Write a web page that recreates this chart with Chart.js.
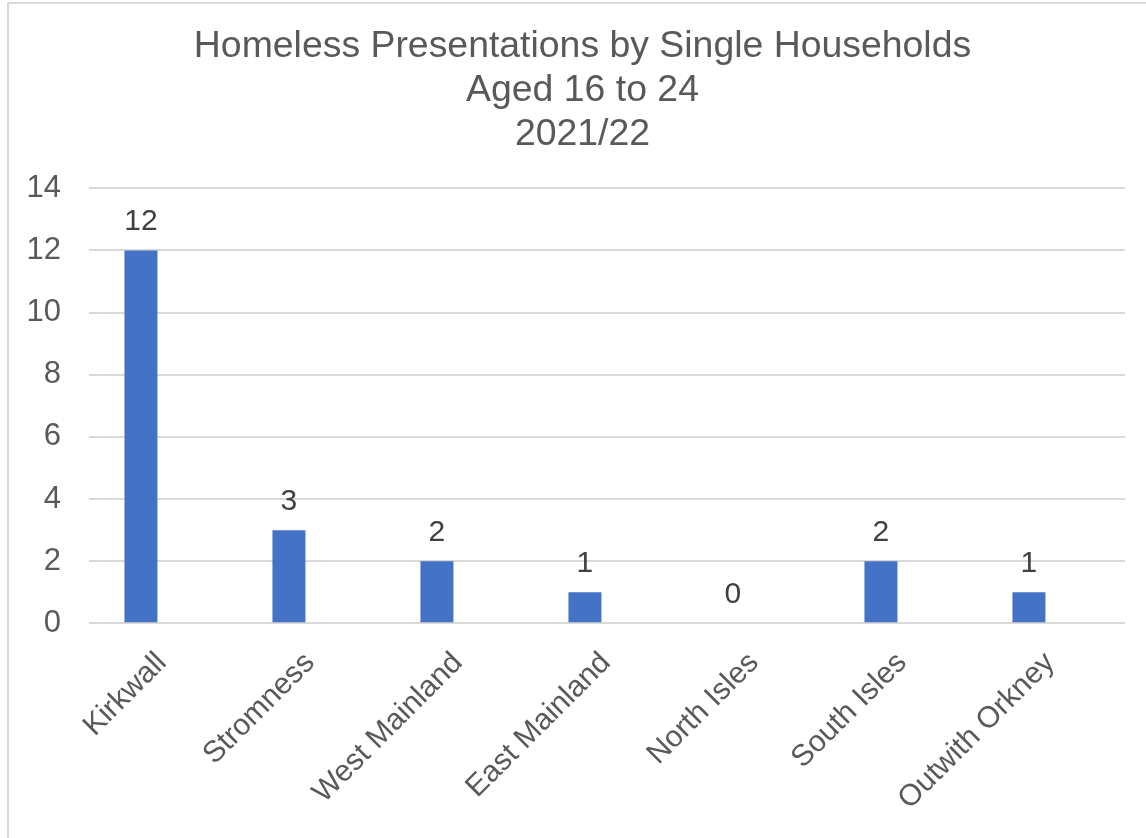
<!DOCTYPE html>
<html>
<head>
<meta charset="utf-8">
<script src="https://cdn.jsdelivr.net/npm/chart.js@4/dist/chart.umd.min.js"></script>
<style>
  html, body { margin: 0; padding: 0; background: #fff; }
  #wrap { position: absolute; left: 0; top: 0; width: 1146px; height: 838px; }
  #frame { position: absolute; left: 7px; top: 2px; width: 1139px; height: 836px;
           border-left: 2px solid #d9d9d9; border-top: 2px solid #d9d9d9; box-sizing: border-box; }
  canvas { position: absolute; left: 0; top: 0; }
</style>
</head>
<body>
<div id="wrap">
  <div id="frame"></div>
  <canvas id="c" width="1146" height="838"></canvas>
</div>
<script>
const titleLines = ["Homeless Presentations by Single Households", "Aged 16 to 24", "2021/22"];
const categories = ["Kirkwall", "Stromness", "West Mainland", "East Mainland", "North Isles", "South Isles", "Outwith Orkney"];
const values = [12, 3, 2, 1, 0, 2, 1];
const yTicks = [0, 2, 4, 6, 8, 10, 12, 14];

const FONT = "'Liberation Sans', Arial, sans-serif";
const TEXT = "#595959";

const valueLabels = {
  id: 'valueLabels',
  afterLayout(chart) {
    // let the y tick labels extend into the left padding without being clipped
    chart.scales.y.left = 0;
  },
  afterDatasetsDraw(chart) {
    const ctx = chart.ctx;
    const meta = chart.getDatasetMeta(0);
    ctx.save();
    ctx.font = "30px " + FONT;
    ctx.fillStyle = "#404040";
    ctx.textAlign = "center";
    ctx.textBaseline = "alphabetic";
    meta.data.forEach((bar, i) => {
      ctx.fillText(String(values[i]), bar.x, bar.y - 20);
    });
    ctx.restore();
  }
};

new Chart(document.getElementById('c'), {
  type: 'bar',
  data: {
    datasets: [{
      data: values.map((v, i) => ({ x: i, y: v })),
      backgroundColor: '#4472C4',
      borderWidth: 0,
      barPercentage: 0.223,
      categoryPercentage: 1.0
    }]
  },
  options: {
    responsive: false,
    animation: false,
    layout: { padding: { left: 40, right: 21, top: 25, bottom: -1 } },
    plugins: {
      legend: { display: false },
      tooltip: { enabled: false },
      title: {
        display: true,
        text: titleLines,
        color: TEXT,
        font: { family: FONT, size: 37.4, weight: 'normal', lineHeight: 1.17 },
        padding: { top: 0, bottom: 32 }
      }
    },
    scales: {
      x: {
        type: 'linear',
        min: -0.351,
        max: 6.649,
        offset: false,
        afterBuildTicks(scale) { scale.ticks = categories.map((c, i) => ({ value: i })); },
        grid: { display: false, drawTicks: false },
        border: { display: false },
        ticks: {
          color: TEXT,
          font: { family: FONT, size: 30 },
          maxRotation: 45,
          minRotation: 45,
          autoSkip: false,
          padding: 22,
          labelOffset: 21,
          callback: (v) => categories[v]
        }
      },
      y: {
        min: 0,
        max: 14,
        afterBuildTicks(scale) { scale.ticks = yTicks.map(v => ({ value: v })); },
        afterFit(scale) { scale.width = 49; },
        grid: { color: '#d9d9d9', lineWidth: 2, drawTicks: false },
        border: { display: false },
        ticks: {
          color: TEXT,
          font: { family: FONT, size: 31 },
          padding: 28
        }
      }
    }
  },
  plugins: [valueLabels]
});
</script>
</body>
</html>
